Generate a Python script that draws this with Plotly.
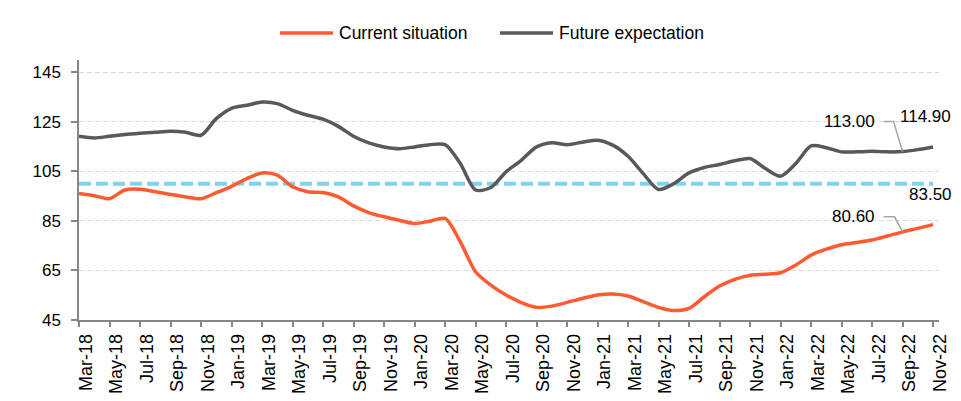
import pandas as pd
import plotly.graph_objects as go

# ---------------- data ----------------
MONTHS = pd.date_range("2018-03-01", "2022-11-01", freq="MS").strftime("%b-%y").tolist()

CURRENT_SITUATION = [
    96.1, 95.2, 94.0, 97.5, 97.8, 96.8, 95.7, 94.7, 94.0, 96.4,
    99.0, 102.1, 104.4, 103.5, 98.8, 96.8, 96.5, 94.7, 91.1, 88.4,
    86.7, 85.3, 84.0, 84.9, 86.0, 76.6, 64.5, 59.1, 55.1, 52.0,
    50.1, 50.6, 52.1, 53.7, 55.1, 55.5, 54.7, 52.4, 50.1, 48.8,
    49.7, 54.4, 58.7, 61.4, 63.1, 63.5, 64.1, 67.2, 71.2, 73.6,
    75.4, 76.3, 77.3, 78.9, 80.6, 82.0, 83.5,
]
FUTURE_EXPECTATION = [
    119.2, 118.5, 119.2, 119.9, 120.4, 120.8, 121.2, 120.8, 119.6, 126.3,
    130.5, 131.7, 133.0, 132.4, 129.7, 127.7, 126.1, 123.2, 119.2, 116.5,
    114.9, 114.2, 114.9, 115.8, 115.8, 108.2, 97.5, 98.5, 104.8, 109.5,
    114.9, 116.6, 115.8, 116.8, 117.6, 115.6, 111.1, 104.1, 97.7, 100.1,
    104.4, 106.6, 107.8, 109.3, 110.2, 106.2, 103.1, 108.2, 115.3, 114.6,
    112.9, 112.9, 113.1, 112.9, 113.0, 113.8, 114.9,
]
SERIES_NAMES = ["Current situation", "Future expectation"]
REFERENCE_LEVEL = 100
TICK_LABELS = MONTHS[::2]
Y_TICKS = [45, 65, 85, 105, 125, 145]

# ---------------- styles ----------------
ORANGE = "#FF5A30"
GREY = "#595959"
BLUE = "#7FD3EA"
FONT = "Liberation Sans, Arial, sans-serif"
L, R, T, B, W, H = 79, 22, 60, 81, 961, 401
PW, PH = W - L - R, H - T - B


def px_x(px):
    return (px - L) / PW


def px_y(py):
    return 1 + (T - py) / PH


fig = go.Figure()
series = [(SERIES_NAMES[0], CURRENT_SITUATION, ORANGE),
          (SERIES_NAMES[1], FUTURE_EXPECTATION, GREY)]
for name, vals, col in series:
    fig.add_trace(go.Scatter(
        x=MONTHS, y=vals, name=name, mode="lines", showlegend=False,
        line=dict(color=col, width=3.5, shape="spline", smoothing=0.8),
    ))

# reference line at 100
fig.add_shape(type="line", xref="x", yref="y", x0=0, x1=len(MONTHS) - 1,
              y0=REFERENCE_LEVEL, y1=REFERENCE_LEVEL,
              line=dict(color=BLUE, width=4, dash="12px,5px"), layer="below")


# value labels with leader lines
def value_label(month, vals, text_dx, text_dy, leader=None):
    i = MONTHS.index(month)
    v = vals[i]
    fig.add_annotation(x=month, y=v, xref="x", yref="y", text=f"{v:.2f}",
                       showarrow=False, xshift=text_dx, yshift=text_dy,
                       font=dict(family=FONT, size=17, color="#000000"))
    if leader:
        fig.add_shape(type="path", xref="x", yref="y", xsizemode="pixel",
                      ysizemode="pixel", xanchor=month, yanchor=v, path=leader,
                      line=dict(color="#A6A6A6", width=1.5))


value_label("Sep-22", FUTURE_EXPECTATION, -53, 30, "M0,0 L-9,30 L-19,30")
value_label("Nov-22", FUTURE_EXPECTATION, -8, 30)
value_label("Sep-22", CURRENT_SITUATION, -49, 15, "M0,0 L-8,15 L-19,15")
value_label("Nov-22", CURRENT_SITUATION, -3, 30)

# legend (drawn at top centre)
legend_items = [(SERIES_NAMES[0], ORANGE, 280), (SERIES_NAMES[1], GREY, 500)]
for name, col, x0 in legend_items:
    fig.add_shape(type="line", xref="paper", yref="paper",
                  x0=px_x(x0), x1=px_x(x0 + 53), y0=px_y(33), y1=px_y(33),
                  line=dict(color=col, width=3.5))
    fig.add_annotation(xref="paper", yref="paper", x=px_x(x0 + 57), y=px_y(33),
                       xanchor="left", yanchor="middle", showarrow=False,
                       text=name, font=dict(family=FONT, size=17.5, color="#000000"))

fig.update_layout(
    width=W, height=H,
    margin=dict(l=L, r=R, t=T, b=B, autoexpand=False),
    paper_bgcolor="white", plot_bgcolor="white",
    font=dict(family=FONT, size=17, color="#000000"),
    showlegend=False,
    xaxis=dict(
        type="category", range=[0, 56.39], automargin=False,
        tickmode="array", tickvals=TICK_LABELS, ticktext=TICK_LABELS,
        tickangle=-90, tickfont=dict(family=FONT, size=18),
        ticks="outside", ticklen=5, tickcolor="#868686", tickwidth=1.5,
        showline=True, linecolor="#868686", linewidth=1.5,
        showgrid=False, zeroline=False, ticklabelshift=7,
    ),
    yaxis=dict(
        range=[45, 150], tickmode="array", tickvals=Y_TICKS, automargin=False,
        tickfont=dict(family=FONT, size=17), ticklabelstandoff=7,
        ticks="outside", ticklen=6, tickcolor="#868686", tickwidth=1.5,
        showline=True, linecolor="#868686", linewidth=1.5,
        showgrid=True, gridcolor="#D9D9D9", gridwidth=1, griddash="5px,3px",
        zeroline=False,
    ),
)

fig.write_html("out.html", config={"displayModeBar": False},
               post_script="document.body.style.margin='0';")
